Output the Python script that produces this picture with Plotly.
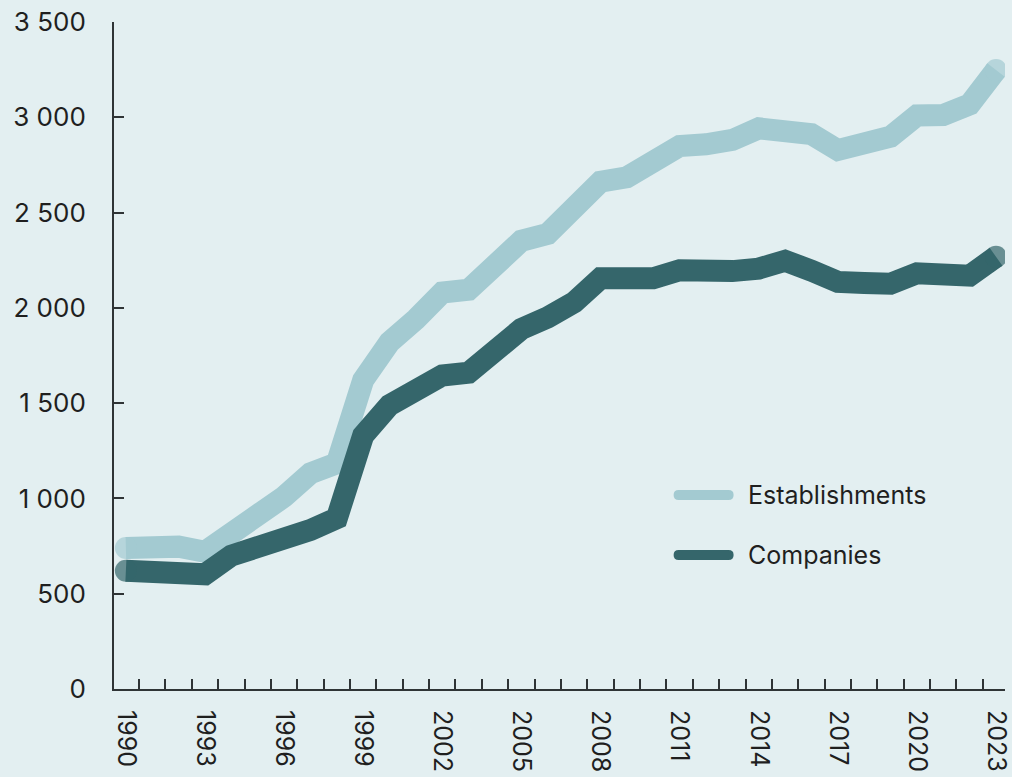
import plotly.graph_objects as go

years = list(range(1990, 2024))
establishments = [740, 750, 747, 720, 820, 896, 1009, 1132, 1184, 1621,
                  1820, 1940, 2080, 2095, 2225, 2352, 2388, 2531, 2662, 2685,
                  2758, 2849, 2858, 2881, 2942, 2924, 2912, 2828, 2870, 2898,
                  3010, 3012, 3068, 3248]
companies = [621, 624, 624, 602, 700, 738, 782, 834, 896, 1330,
             1490, 1580, 1645, 1660, 1767, 1889, 1950, 2029, 2155, 2151,
             2155, 2197, 2183, 2193, 2206, 2247, 2195, 2136, 2130, 2127,
             2181, 2169, 2169, 2268]
series_names = ["Establishments", "Companies"]
label_years = list(range(1990, 2024, 3))
y_ticks = [0, 500, 1000, 1500, 2000, 2500, 3000, 3500]

BG = "#e3eff1"
LIGHT = "#a3cad1"
DARK = "#35666b"
AX = "#2f3436"
FONT = "Inter"
LW = 22

def cap_sizes(n, s):
    return [s] + [0] * (n - 2) + [s]

fig = go.Figure()
for name, vals, col in [(series_names[0], establishments, LIGHT),
                        (series_names[1], companies, DARK)]:
    fig.add_trace(go.Scatter(
        x=years, y=vals, name=name, mode="lines+markers",
        line=dict(color=col, width=LW),
        marker=dict(size=cap_sizes(len(vals), LW), color=col, line=dict(width=0)),
        showlegend=False, hoverinfo="x+y"))

# manual legend
leg = [(series_names[0], LIGHT, 495), (series_names[1], DARK, 555)]
for name, col, ypx in leg:
    fig.add_shape(type="path", xref="paper", yref="paper",
                  xsizemode="pixel", ysizemode="pixel",
                  xanchor=(678 - 114) / (1012 - 114), yanchor=(777 - 88 - ypx) / (777 - 88 - 22),
                  path="M 5,5 L 55,5 Q 60,5 60,0 Q 60,-5 55,-5 L 5,-5 Q 0,-5 0,0 Q 0,5 5,5 Z",
                  fillcolor=col, line=dict(width=0))
    fig.add_annotation(xref="paper", yref="paper",
                       x=(751 - 114) / (1012 - 114), y=(777 - 88 - ypx) / (777 - 88 - 22),
                       xanchor="left", yanchor="middle", text=name, showarrow=False,
                       font=dict(family=FONT, size=25, color="#1f1f1f"))

fig.update_layout(
    width=1012, height=777,
    margin=dict(l=114, r=0, t=22, b=88),
    paper_bgcolor=BG, plot_bgcolor=BG,
    separators=". ",
    font=dict(family=FONT, size=26, color="#1f1f1f"),
    showlegend=False,
)
fig.update_xaxes(
    range=[1989.55, 2023.34], showgrid=False, zeroline=False,
    showline=True, linecolor=AX, linewidth=2,
    tickmode="array", tickvals=label_years, ticktext=[str(y) for y in label_years],
    ticks="", tickangle=90, ticklabelstandoff=14, ticklabeloverflow="allow",
    tickfont=dict(family=FONT, size=25, color="#1f1f1f"),
    minor=dict(tick0=1989.5, dtick=1, ticks="inside", ticklen=10, tickwidth=2, tickcolor=AX, showgrid=False),
)
fig.update_yaxes(
    range=[0, 3500], showgrid=False, zeroline=False,
    showline=True, linecolor=AX, linewidth=2,
    tickmode="array", tickvals=y_ticks, separatethousands=True, tickformat=",d",
    ticks="inside", ticklen=10, tickwidth=2, tickcolor=AX,
    ticklabelstandoff=21,
    tickfont=dict(family=FONT, size=26, color="#1f1f1f"),
)
fig.write_html("out.html", config={"displayModeBar": False},
               post_script="document.body.style.margin='0';document.body.style.overflow='hidden';")
